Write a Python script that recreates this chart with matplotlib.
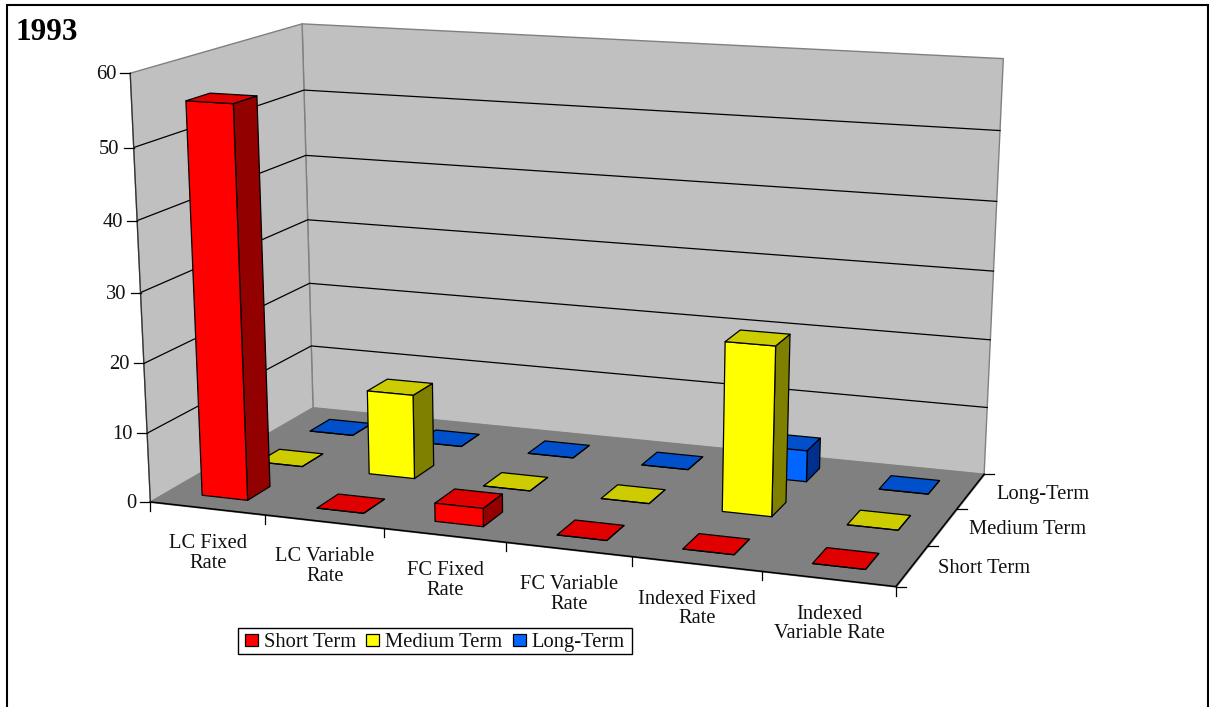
import numpy as np
import matplotlib
matplotlib.use("Agg")
import matplotlib.pyplot as plt
from matplotlib.lines import Line2D
from matplotlib.patches import Patch, Rectangle
from matplotlib.transforms import Affine2D
from mpl_toolkits.mplot3d.art3d import Poly3DCollection

W, H = 1209, 707
plt.rcParams['font.family'] = ['Liberation Serif', 'DejaVu Serif']

title = "1993"
categories = ["LC Fixed\nRate", "LC Variable\nRate", "FC Fixed\nRate",
              "FC Variable\nRate", "Indexed Fixed\nRate", "Indexed\nVariable Rate"]
series_names = ["Short Term", "Medium Term", "Long-Term"]
short_term = [55.8, 0, 2.6, 0, 0, 0]
medium_term = [0, 12.4, 0, 0, 24.2, 0]
long_term = [0, 0, 0, 0, 4.6, 0]
z_ticks = [0, 10, 20, 30, 40, 50, 60]

series_values = [short_term, medium_term, long_term]
# front, side, top shades
shades = [("#FF0000", "#930000", "#E00000"),
          ("#FFFF00", "#808000", "#CCCC00"),
          ("#0066FF", "#00308F", "#0050CC")]

NX, NY, ZMAX = len(categories), len(series_names), z_ticks[-1]

# camera calibration: chart-box corners -> reference pixels
box = [(0, 0, 0), (0, 0, ZMAX), (0, NY, 0), (0, NY, ZMAX),
       (NX, NY, 0), (NX, NY, ZMAX), (NX, 0, 0)]
pix = [(150.7, 502), (130, 73), (312.7, 407.7), (302.3, 24),
       (984.3, 474), (1003.3, 58.7), (895.7, 586.7)]


def fit_camera(box, pix):
    S = np.diag([1 / NX, 1 / NY, 1 / ZMAX, 1.0])
    rows = []
    for (X, Y, Z), (u, v) in zip(box, pix):
        p = S @ np.array([X, Y, Z, 1.0])
        u, v = u / 1000, (H - v) / 1000
        rows.append(np.r_[p, 0, 0, 0, 0, -u * p])
        rows.append(np.r_[0, 0, 0, 0, p, -v * p])
    Pn = np.linalg.svd(np.array(rows))[2][-1].reshape(3, 4)
    P = np.diag([1000, 1000, 1.0]) @ Pn @ S
    if (P @ np.array([NX / 2, NY / 2, 0, 1]))[2] < 0:
        P = -P
    return P / (P @ np.array([NX / 2, NY / 2, 0, 1]))[2]


P = fit_camera(box, pix)


def project(x, y, z):
    u, v, w = P @ np.array([x, y, z, 1.0])
    return u / w, H - v / w


fig = plt.figure(figsize=(W / 100, H / 100), dpi=100)
ax = fig.add_axes([0, 0, 1, 1], projection='3d', computed_zorder=False)
matplotlib.axes.Axes.set_box_aspect(ax, None)
ax.set_axis_off()
ax.patch.set_visible(False)
ax.set_xlim(0, NX)
ax.set_ylim(0, NY)
ax.set_zlim(0, ZMAX)


def get_proj():
    T = ax.transData.get_affine().get_matrix()
    A = np.linalg.inv(T) @ P
    return np.vstack([A[0], A[1], [0, 0, 0, -1.0], A[2]])


ax.get_proj = get_proj

# walls and floor
left_wall = [(0, 0, 0), (0, 0, ZMAX), (0, NY, ZMAX), (0, NY, 0)]
back_wall = [(0, NY, 0), (0, NY, ZMAX), (NX, NY, ZMAX), (NX, NY, 0)]
floor = [(0, 0, 0), (NX, 0, 0), (NX, NY, 0), (0, NY, 0)]
walls = Poly3DCollection([left_wall, back_wall], facecolors="#C0C0C0",
                         edgecolors="#808080", linewidths=1.0, zorder=1)
ground = Poly3DCollection([floor], facecolors="#808080",
                          edgecolors="#808080", linewidths=1.0, zorder=2)
ax.add_collection3d(walls)
ax.add_collection3d(ground)
walls.set_clip_on(False)
ground.set_clip_on(False)

# gridlines on the walls
for z in z_ticks[1:-1]:
    ax.plot([0, 0, NX], [0, NY, NY], [z, z, z], color="black", lw=0.9, zorder=3, clip_on=False)
ax.plot([0, 0], [0, 0], [0, ZMAX], color="#333333", lw=0.9, zorder=3, clip_on=False)
ax.plot([0, NX, NX], [0, 0, NY], [0, 0, 0], color="black", lw=1.1, zorder=4, clip_on=False)

# bars, back row first
BAR = 0.4
NONE = (0, 0, 0, 0)
order = 10
for j in reversed(range(NY)):
    front, side, top = shades[j]
    for i in range(NX):
        faces = [NONE, top, front, NONE, NONE, side]
        edges = [NONE, "black", "black", NONE, NONE, "black"]
        col = ax.bar3d(i + 0.5 - BAR / 2, j + 0.5 - BAR / 2, 0, BAR, BAR, series_values[j][i],
                       color=faces, edgecolor=edges, linewidth=0.9, shade=False, zorder=order)
        col.set_clip_on(False)
        order += 1

# pixel-space overlay for ticks, tick labels and frame
px = Affine2D().scale(1, -1).translate(0, H)
FS = 14.8
INK = "#111111"


def seg(p0, dx, dy):
    fig.add_artist(Line2D([p0[0], p0[0] + dx], [p0[1], p0[1] + dy], color="black",
                          lw=0.9, transform=px))


for z in z_ticks:
    p = project(0, 0, z)
    seg(p, -10, 0)
    fig.text(p[0] - 14, p[1] + 1.5, str(z), transform=px, ha="right", va="center",
             fontsize=FS, color=INK)
for i in range(NX + 1):
    seg(project(i, 0, 0), 0, 9)
for i, lab in enumerate(categories):
    p = project(i + 0.5, 0, 0)
    fig.text(p[0] + 1, p[1] + 45, lab, transform=px, ha="center", va="center",
             fontsize=FS, linespacing=1.05, color=INK)
for j in range(NY + 1):
    seg(project(NX, j, 0), 10, 0)
for j, lab in enumerate(series_names):
    p = project(NX, j + 0.5, 0)
    fig.text(p[0] + 26, p[1] + 3, lab, transform=px, ha="left", va="center",
             fontsize=FS, color=INK)

fig.text(16, 33, title, transform=px, ha="left", va="center", fontsize=22.4,
         fontweight="bold", color="black")

fig.add_artist(Line2D([7, 7, 1208, 1208], [H + 5, 5, 5, H + 5], color="black", lw=1.5,
                      transform=px, solid_joinstyle="miter"))

# legend with a separately drawn box (wider side padding than top and bottom)
fig.add_artist(Rectangle((238, 628), 394, 26, facecolor="white", edgecolor="black",
                         linewidth=1.0, transform=px, zorder=4))
handles = [Patch(facecolor=s[0], edgecolor="black", linewidth=0.9) for s in shades]
leg = fig.legend(handles, series_names, ncol=3, loc="center",
                 bbox_to_anchor=(435 / W, 1 - 642.5 / H), fontsize=FS, frameon=False,
                 borderpad=0.16, handlelength=0.63, handleheight=0.53, handletextpad=0.29,
                 columnspacing=0.5, borderaxespad=0, labelspacing=0)
for t in leg.get_texts():
    t.set_color(INK)

fig.savefig("out.png", dpi=100, facecolor="white")
